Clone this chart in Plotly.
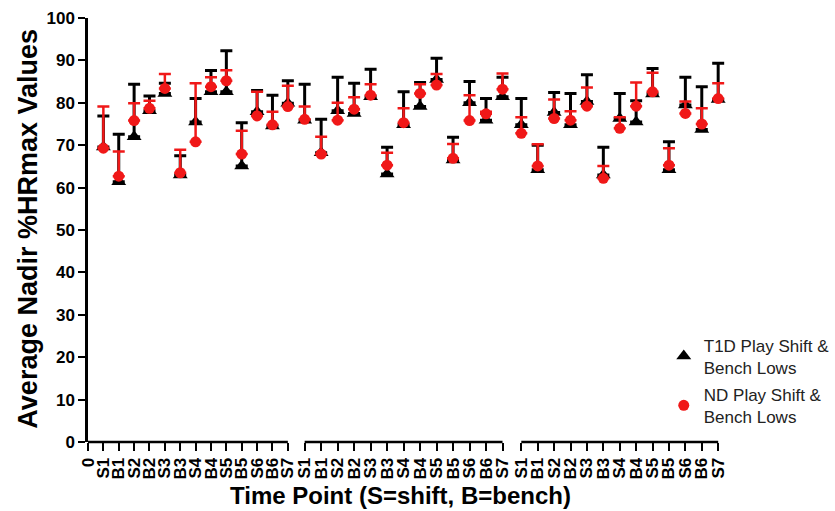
import plotly.graph_objects as go

# ---- data ----
labels = ["S1", "B1", "S2", "B2", "S3", "B3", "S4", "B4", "S5", "B5", "S6", "B6", "S7"]
first_tick = "0"

t1d_mean_1 = [69.6, 61.4, 72.0, 78.1, 82.2, 63.0, 75.5, 82.6, 82.6, 65.1, 77.9, 74.5, 79.9]
t1d_cap_1 = [76.9, 72.6, 84.4, 81.6, 84.6, 67.5, 81.0, 87.6, 92.3, 75.3, 82.9, 81.8, 85.2]
nd_mean_1 = [69.3, 62.7, 75.8, 78.7, 83.4, 63.5, 70.8, 83.8, 85.2, 67.9, 76.9, 74.8, 79.1]
nd_cap_1 = [79.1, 68.5, 79.9, 80.5, 86.8, 68.9, 84.6, 86.0, 87.7, 73.4, 82.6, 77.9, 84.0]

t1d_mean_2 = [75.9, 68.2, 78.1, 77.5, 81.4, 63.2, 74.8, 79.1, 85.5, 66.5, 80.0, 75.9, 81.4]
t1d_cap_2 = [84.4, 76.1, 86.0, 84.6, 87.9, 69.5, 82.6, 84.8, 90.5, 71.9, 85.0, 81.0, 86.0]
nd_mean_2 = [76.1, 67.9, 75.9, 78.5, 81.8, 65.3, 75.3, 82.2, 84.2, 66.9, 75.8, 77.4, 83.2]
nd_cap_2 = [79.1, 72.0, 80.0, 81.3, 84.4, 68.2, 78.7, 84.4, 86.8, 70.3, 81.8, 77.9, 86.9]

t1d_mean_3 = [74.8, 64.2, 77.7, 74.8, 80.3, 63.0, 76.3, 75.5, 82.1, 64.2, 79.5, 73.7, 80.8]
t1d_cap_3 = [81.0, 70.0, 82.4, 82.2, 86.6, 69.5, 82.2, 80.5, 88.1, 70.8, 86.0, 83.8, 89.3]
nd_mean_3 = [72.8, 65.1, 76.3, 75.9, 79.2, 62.2, 74.0, 79.2, 82.6, 65.3, 77.5, 75.0, 81.0]
nd_cap_3 = [76.6, 70.2, 80.8, 78.0, 83.6, 65.1, 76.6, 84.8, 87.1, 69.3, 80.3, 78.7, 84.6]

t1d_name = "T1D Play Shift &<br>Bench Lows"
nd_name = "ND Play Shift &<br>Bench Lows"
y_title = "Average Nadir %HRmax Values"
x_title = "Time Point (S=shift, B=bench)"

groups = [
    (t1d_mean_1, t1d_cap_1, nd_mean_1, nd_cap_1),
    (t1d_mean_2, t1d_cap_2, nd_mean_2, nd_cap_2),
    (t1d_mean_3, t1d_cap_3, nd_mean_3, nd_cap_3),
]

FONT = "Liberation Sans, Arial, sans-serif"
RED = "#f01818"

fig = go.Figure()
for gi, (tm, tc, nm, nc) in enumerate(groups):
    xa = "x" if gi == 0 else f"x{gi + 1}"
    offset = 1 if gi == 0 else 0
    xs = [i + offset for i in range(len(labels))]
    fig.add_trace(go.Scatter(
        x=xs, y=tm, mode="markers", xaxis=xa, yaxis="y",
        name=t1d_name, legendgroup="t1d", showlegend=(gi == 0),
        marker=dict(symbol="triangle-up", size=13, color="black"),
        error_y=dict(type="data", symmetric=False,
                     array=[c - m for c, m in zip(tc, tm)],
                     arrayminus=[0] * len(tm),
                     color="black", thickness=3, width=6),
        cliponaxis=False,
    ))
    fig.add_trace(go.Scatter(
        x=xs, y=nm, mode="markers", xaxis=xa, yaxis="y",
        name=nd_name, legendgroup="nd", showlegend=(gi == 0),
        marker=dict(symbol="circle", size=11, color=RED),
        error_y=dict(type="data", symmetric=False,
                     array=[c - m for c, m in zip(nc, nm)],
                     arrayminus=[0] * len(nm),
                     color=RED, thickness=2.5, width=6),
        cliponaxis=False,
    ))

W, H = 835, 511
L, R, T, B = 88, 0, 18, 69
pw = W - L - R
PAD = 0.45  # room so edge error-bar caps are not clipped


def dom(a, b, lo, hi):
    # pixel positions a (value lo) and b (value hi), widened by PAD where needed
    s = (b - a) / (hi - lo)
    return s


n = len(labels)
# segment 1: ticks 0..n between px 88..290 ; segments 2,3: ticks 0..n-1
s1 = (290 - 88) / n
s2 = (507 - 307) / (n - 1)
s3 = (725 - 526) / (n - 1)
d1 = [(88 - L) / pw, (290 + PAD * s1 - L) / pw]
d2 = [(307 - PAD * s2 - L) / pw, (507 + PAD * s2 - L) / pw]
d3 = [(526 - PAD * s3 - L) / pw, (725 + PAD * s3 - L) / pw]

axis_common = dict(
    showline=False, ticks="outside", ticklen=8, tickwidth=2, tickcolor="black",
    tickangle=-90, showgrid=False, zeroline=False,
    tickfont=dict(family=FONT, size=17, color="black", weight="bold"),
    anchor="y", fixedrange=True,
)

fig.update_layout(
    width=W, height=H,
    margin=dict(l=L, r=R, t=T, b=B, pad=0),
    paper_bgcolor="white", plot_bgcolor="white",
    font=dict(family=FONT, color="black"),
    xaxis=dict(domain=d1, range=[0, n + PAD],
               tickvals=list(range(n + 1)),
               ticktext=[first_tick] + labels, **axis_common),
    xaxis2=dict(domain=d2, range=[-PAD, n - 1 + PAD],
                tickvals=list(range(n)), ticktext=labels, **axis_common),
    xaxis3=dict(domain=d3, range=[-PAD, n - 1 + PAD],
                tickvals=list(range(n)), ticktext=labels, **axis_common),
    yaxis=dict(range=[0, 100], dtick=10, showline=True, linecolor="black",
               linewidth=2.5, ticks="outside", ticklen=7, tickwidth=2,
               tickcolor="black", showgrid=False, zeroline=False,
               tickfont=dict(family=FONT, size=17, color="black", weight="bold"),
               fixedrange=True),
    legend=dict(x=(670 - L) / pw, xanchor="left", y=0.27, yanchor="top",
                bgcolor="rgba(0,0,0,0)", tracegroupgap=2,
                font=dict(family=FONT, size=17, color="#222222")),
    showlegend=True,
    shapes=[
        dict(type="line", xref="x", yref="paper", x0=0, x1=n, y0=0, y1=0,
             line=dict(color="black", width=2.5)),
        dict(type="line", xref="x2", yref="paper", x0=0, x1=n - 1, y0=0, y1=0,
             line=dict(color="black", width=2.5)),
        dict(type="line", xref="x3", yref="paper", x0=0, x1=n - 1, y0=0, y1=0,
             line=dict(color="black", width=2.5)),
    ],
    annotations=[
        dict(text=y_title, xref="paper", yref="paper", x=(27 - L) / pw,
             y=(442 - 229) / (H - T - B),
             xanchor="center", yanchor="middle", textangle=-90, showarrow=False,
             font=dict(family=FONT, size=27, color="black", weight="bold")),
        dict(text=x_title, xref="paper", yref="paper",
             x=(404 - L) / pw, y=-(495 - 442) / (H - T - B),
             xanchor="center", yanchor="middle", showarrow=False,
             font=dict(family=FONT, size=24, color="black", weight="bold")),
    ],
)

fig.write_html("out.html")
